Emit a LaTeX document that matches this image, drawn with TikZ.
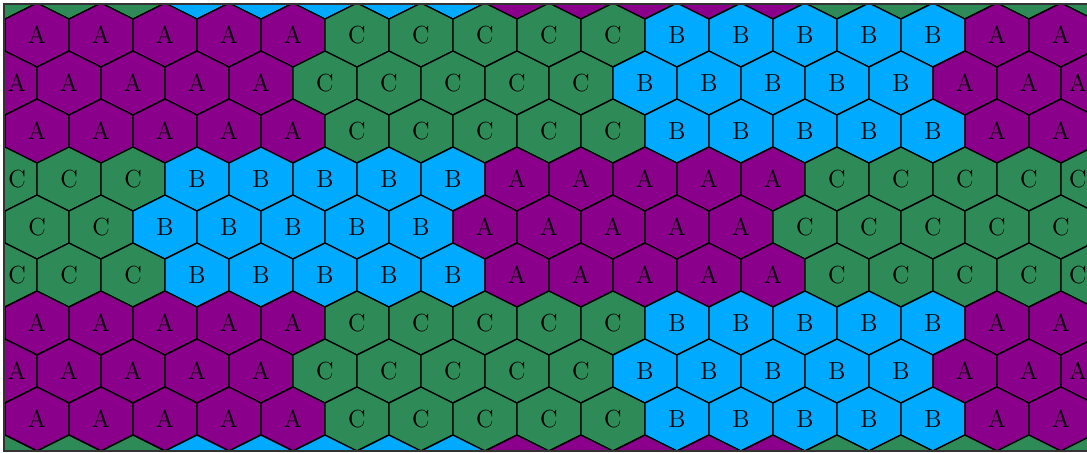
\documentclass[tikz,border=0pt]{standalone}
\usepackage{tikz}

\definecolor{hexA}{RGB}{139,0,139}
\definecolor{hexB}{RGB}{0,170,255}
\definecolor{hexC}{RGB}{46,139,87}

\begin{document}
\begin{tikzpicture}[
    x=0.5cm, y=0.5cm,
    cell/.style={draw=black, line width=0.6pt},
    lbl/.style={font=\fontsize{11}{13}\selectfont, inner sep=0pt},
    frame/.style={draw=black!80, line width=0.9pt}
]
\useasboundingbox (0,0) rectangle (33.97,-14.156);
\begin{scope}
\clip (0.125,-0.125) rectangle (35,-14.094);
% rows 0 and 10 only show as triangles along the top and bottom
\foreach \r in {0,...,10} {
  \pgfmathtruncatemacro{\t}{mod(floor((\r+2)/3),2)}
  \pgfmathtruncatemacro{\off}{15*(1-\t)}
  \pgfmathtruncatemacro{\js}{mod(\r,2)}
  \pgfmathtruncatemacro{\jn}{\js+2}
  \pgfmathsetmacro{\yc}{0.40625-1.5*\r}
  \foreach \j in {\js,\jn,...,34} {
    \pgfmathtruncatemacro{\k}{mod(floor((\j+\off)/10),3)}
    \pgfmathsetmacro{\l}{{"A","C","B"}[\k]}
    \pgfmathsetmacro{\xc}{0.15625+\j}
    \filldraw[cell, fill=hex\l] (\xc,\yc) ++(-1,0.5) -- ++(1,0.5) -- ++(1,-0.5)
      -- ++(0,-1) -- ++(-1,-0.5) -- ++(-1,0.5) -- cycle;
    \ifnum\r>0 \ifnum\r<10
      \pgfmathsetmacro{\dx}{\j==0 ? 0.375 : (\j==34 ? -0.47 : 0)}
      \node[lbl] (l-\r-\j) at (\xc+\dx,\yc) {\l};
    \fi\fi
  }
}
\end{scope}
\draw[frame] (35,-0.125) -- (0.125,-0.125) -- (0.125,-14.094) -- (35,-14.094);
\end{tikzpicture}
\end{document}
